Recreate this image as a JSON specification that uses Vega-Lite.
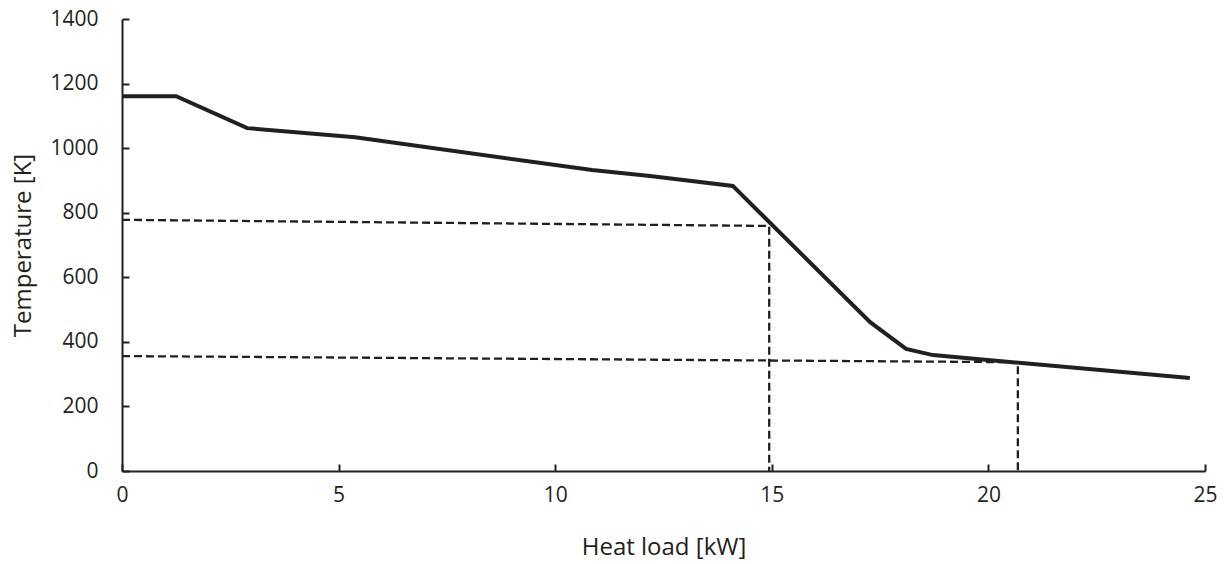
{
  "$schema": "https://vega.github.io/schema/vega-lite/v6.json",
  "width": 1083,
  "height": 452,
  "autosize": {"type": "none"},
  "padding": {"left": 122, "top": 19, "right": 23, "bottom": 93},
  "background": "white",
  "config": {
    "view": {"stroke": null},
    "font": "Open Sans",
    "axis": {
      "grid": false,
      "domainColor": "#231f20",
      "domainWidth": 2,
      "tickColor": "#231f20",
      "tickWidth": 2,
      "tickSize": -7,
      "labelColor": "#231f20",
      "titleColor": "#231f20",
      "titleFontWeight": "normal",
      "labelFlush": false
    }
  },
  "datasets": {
    "curve": [
      {"q": 0, "t": 1161},
      {"q": 1.25, "t": 1161},
      {"q": 2.89, "t": 1062},
      {"q": 5.38, "t": 1034},
      {"q": 10.85, "t": 932},
      {"q": 12.19, "t": 914},
      {"q": 14.1, "t": 883},
      {"q": 17.27, "t": 461},
      {"q": 18.1, "t": 378},
      {"q": 18.72, "t": 359},
      {"q": 24.65, "t": 288}
    ],
    "guides": [
      {"g": "a", "o": 1, "q": 0, "t": 778},
      {"g": "a", "o": 2, "q": 14.94, "t": 759},
      {"g": "a", "o": 3, "q": 14.94, "t": 0},
      {"g": "b", "o": 1, "q": 0, "t": 356},
      {"g": "b", "o": 2, "q": 20.68, "t": 337},
      {"g": "b", "o": 3, "q": 20.68, "t": 0}
    ]
  },
  "layer": [
    {
      "data": {"name": "guides"},
      "mark": {"type": "line", "color": "#231f20", "strokeWidth": 2.3, "strokeDash": [8, 4]},
      "encoding": {
        "x": {"field": "q", "type": "quantitative", "scale": {"domain": [0, 25], "nice": false},
              "axis": {"title": "Heat load [kW]", "values": [0, 5, 10, 15, 20, 25], "format": "d",
                       "labelFont": "Open Sans", "labelFontSize": 21, "titleFont": "Open Sans", "titleFontSize": 24,
                       "labelPadding": 20, "titlePadding": 30}},
        "y": {"field": "t", "type": "quantitative", "scale": {"domain": [0, 1400], "nice": false},
              "axis": {"title": "Temperature [K]", "values": [0, 200, 400, 600, 800, 1000, 1200, 1400], "format": "d",
                       "labelFont": "Open Sans", "labelFontSize": 21, "titleFont": "Open Sans", "titleFontSize": 24,
                       "labelPadding": 31, "titlePadding": 14}},
        "detail": {"field": "g"},
        "order": {"field": "o"}
      }
    },
    {
      "data": {"name": "curve"},
      "mark": {"type": "line", "color": "#231f20", "strokeWidth": 4},
      "encoding": {
        "x": {"field": "q", "type": "quantitative"},
        "y": {"field": "t", "type": "quantitative"}
      }
    }
  ]
}
